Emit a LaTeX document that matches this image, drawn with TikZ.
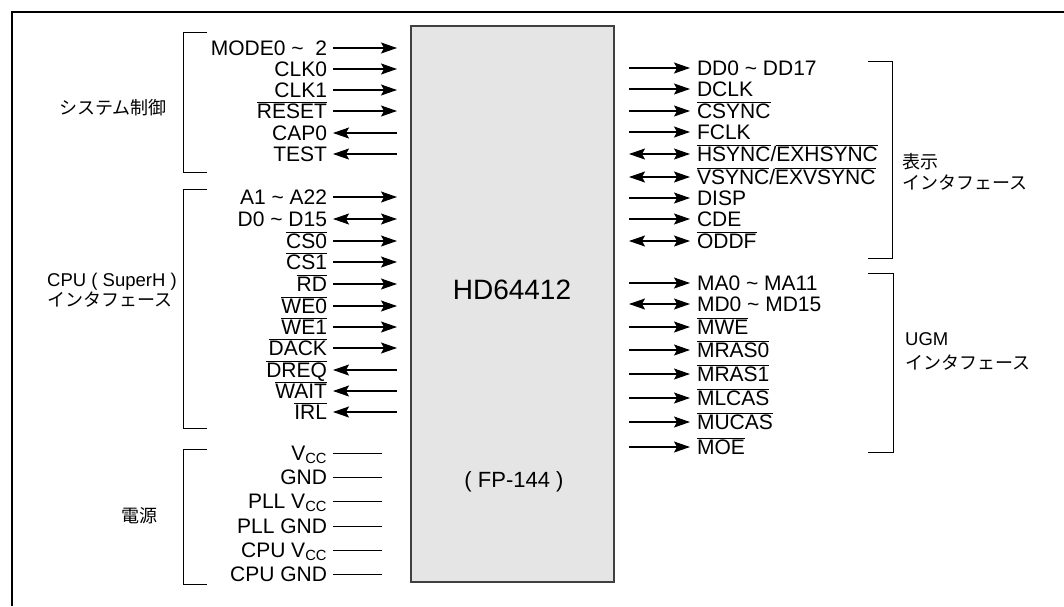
\documentclass[tikz,border=0pt]{standalone}
\usepackage{fontspec}
\setmainfont{Liberation Sans}
\newfontfamily\jpfont{Noto Sans CJK JP}
\usetikzlibrary{arrows.meta,positioning}
\newcommand{\ovl}[1]{$\overline{\mbox{#1}}$}

\begin{document}
\begin{tikzpicture}[x=1pt, y=-1pt, every node/.style={font=\fontsize{21}{21}\selectfont}]
\tikzset{lpin/.style={anchor=east, inner sep=0pt, outer sep=6pt, text height=15pt, text depth=0pt}}
\tikzset{rpin/.style={anchor=west, inner sep=0pt, outer sep=7pt, text height=15pt, text depth=0pt}}
\tikzset{tip/.tip={Stealth[length=16pt, width=11pt, inset=3pt]}}
\tikzset{sig/.style={line width=1.1pt, -tip}}
\tikzset{bidi/.style={line width=1.1pt, tip-tip}}
\tikzset{pwr/.style={line width=1pt}}
\tikzset{brk/.style={line width=1pt}}
\tikzset{grp/.style={font=\jpfont\fontsize{18}{21}\selectfont, align=left, inner sep=0pt}}
\tikzset{chip/.style={draw=black!75, line width=1.4pt, fill=black!10, minimum width=203pt, minimum height=556pt, inner sep=0pt}}
\useasboundingbox (0,0) rectangle (1064,606);
\draw[line width=1.5pt] (12,606) -- (12,12) -- (1064,12);

% chip
\node[chip] (chip) at (512.5,304) {};
\node[font=\fontsize{28}{30}\selectfont] (name) at (512,290) {HD64412};
\node[font=\fontsize{22}{24}\selectfont] (pkg) at (514,482) {( FP-144 )};
\coordinate (lend) at (397,0);
\coordinate (pend) at (382,0);
\coordinate (rend) at (629,0);

% system control
\node[lpin] (mode) at (333,48) {MODE0 \textasciitilde\ \ 2};
\node[lpin] (clk0) at (333,69) {CLK0};
\node[lpin] (clk1) at (333,90) {CLK1};
\node[lpin] (rst) at (333,111) {\ovl{RESET}};
\node[lpin] (cap0) at (333,133) {CAP0};
\node[lpin] (test) at (333,154) {TEST};
\draw[sig] (mode) -- (mode -| lend);
\draw[sig] (clk0) -- (clk0 -| lend);
\draw[sig] (clk1) -- (clk1 -| lend);
\draw[sig] (rst) -- (rst -| lend);
\draw[sig] (cap0 -| lend) -- (cap0);
\draw[sig] (test -| lend) -- (test);
\draw[brk] (207,32) -- (183,32) -- (183,172) -- (207,172);
\node[grp] (sys) at (113,108) {システム制御};

% CPU interface
\node[lpin] (addr) at (333,197) {A1 \textasciitilde\ A22};
\node[lpin] (data) at (333,219) {D0 \textasciitilde\ D15};
\node[lpin] (cs0) at (333,241) {\ovl{CS0}};
\node[lpin] (cs1) at (333,262) {\ovl{CS1}};
\node[lpin] (rd) at (333,284) {\ovl{RD}};
\node[lpin] (we0) at (333,306) {\ovl{WE0}};
\node[lpin] (we1) at (333,327) {\ovl{WE1}};
\node[lpin] (dack) at (333,348) {\ovl{DACK}};
\node[lpin] (dreq) at (333,370) {\ovl{DREQ}};
\node[lpin] (wait) at (333,391) {\ovl{WAIT}};
\node[lpin] (irl) at (333,412) {\ovl{IRL}};
\draw[sig] (addr) -- (addr -| lend);
\draw[bidi] (data) -- (data -| lend);
\draw[sig] (cs0) -- (cs0 -| lend);
\draw[sig] (cs1) -- (cs1 -| lend);
\draw[sig] (rd) -- (rd -| lend);
\draw[sig] (we0) -- (we0 -| lend);
\draw[sig] (we1) -- (we1 -| lend);
\draw[sig] (dack) -- (dack -| lend);
\draw[sig] (dreq -| lend) -- (dreq);
\draw[sig] (wait -| lend) -- (wait);
\draw[sig] (irl -| lend) -- (irl);
\draw[brk] (207,189) -- (183,189) -- (183,428) -- (207,428);
\node[grp, anchor=west, font=\jpfont\fontsize{18}{17}\selectfont] (cpu) at (47,290)
  {{\fontspec{Liberation Sans}\fontsize{18.5}{17}\selectfont CPU ( SuperH )}\\インタフェース};

% power
\node[lpin] (vcc) at (333,453) {V\textsubscript{CC}};
\node[lpin] (gnd) at (333,477) {GND};
\node[lpin] (pvcc) at (333,501) {PLL V\textsubscript{CC}};
\node[lpin] (pgnd) at (333,526) {PLL GND};
\node[lpin] (cvcc) at (333,550) {CPU V\textsubscript{CC}};
\node[lpin] (cgnd) at (333,574) {CPU GND};
\draw[pwr] (vcc) -- (vcc -| pend);
\draw[pwr] (gnd) -- (gnd -| pend);
\draw[pwr] (pvcc) -- (pvcc -| pend);
\draw[pwr] (pgnd) -- (pgnd -| pend);
\draw[pwr] (cvcc) -- (cvcc -| pend);
\draw[pwr] (cgnd) -- (cgnd -| pend);
\draw[brk] (207,449) -- (183,449) -- (183,584) -- (207,584);
\node[grp] (pow) at (139,516) {電源};

% display interface
\node[rpin] (dd) at (690,68) {DD0 \textasciitilde\ DD17};
\node[rpin] (dclk) at (690,89) {DCLK};
\node[rpin] (csync) at (690,111) {\ovl{CSYNC}};
\node[rpin] (fclk) at (690,132) {FCLK};
\node[rpin] (hsync) at (690,154) {\ovl{HSYNC}/\ovl{EXHSYNC}};
\node[rpin] (vsync) at (690,177) {\ovl{VSYNC}/\ovl{EXVSYNC}};
\node[rpin] (disp) at (690,198) {DISP};
\node[rpin] (cde) at (690,219) {CDE};
\node[rpin] (oddf) at (690,241) {\ovl{ODDF}};
\draw[sig] (dd -| rend) -- (dd);
\draw[sig] (dclk -| rend) -- (dclk);
\draw[sig] (csync -| rend) -- (csync);
\draw[sig] (fclk -| rend) -- (fclk);
\draw[bidi] (hsync -| rend) -- (hsync);
\draw[bidi] (vsync -| rend) -- (vsync);
\draw[sig] (disp -| rend) -- (disp);
\draw[sig] (cde -| rend) -- (cde);
\draw[bidi] (oddf -| rend) -- (oddf);
\draw[brk] (868,61) -- (892,61) -- (892,258) -- (868,258);
\node[grp, anchor=west] (dsp) at (902,172) {表示\\インタフェース};

% UGM interface
\node[rpin] (ma) at (690,283) {MA0 \textasciitilde\ MA11};
\node[rpin] (md) at (690,304) {MD0 \textasciitilde\ MD15};
\node[rpin] (mwe) at (690,327) {\ovl{MWE}};
\node[rpin] (mras0) at (690,350) {\ovl{MRAS0}};
\node[rpin] (mras1) at (690,374) {\ovl{MRAS1}};
\node[rpin] (mlcas) at (690,398) {\ovl{MLCAS}};
\node[rpin] (mucas) at (690,422) {\ovl{MUCAS}};
\node[rpin] (moe) at (690,447) {\ovl{MOE}};
\draw[sig] (ma -| rend) -- (ma);
\draw[bidi] (md -| rend) -- (md);
\draw[sig] (mwe -| rend) -- (mwe);
\draw[sig] (mras0 -| rend) -- (mras0);
\draw[sig] (mras1 -| rend) -- (mras1);
\draw[sig] (mlcas -| rend) -- (mlcas);
\draw[sig] (mucas -| rend) -- (mucas);
\draw[sig] (moe -| rend) -- (moe);
\draw[brk] (868,273) -- (893,273) -- (893,452) -- (868,452);
\node[grp, anchor=west, font=\jpfont\fontsize{18}{24}\selectfont] (ugm) at (905,351)
  {{\fontspec{Liberation Sans}\fontsize{18.5}{24}\selectfont UGM}\\インタフェース};
\end{tikzpicture}
\end{document}
